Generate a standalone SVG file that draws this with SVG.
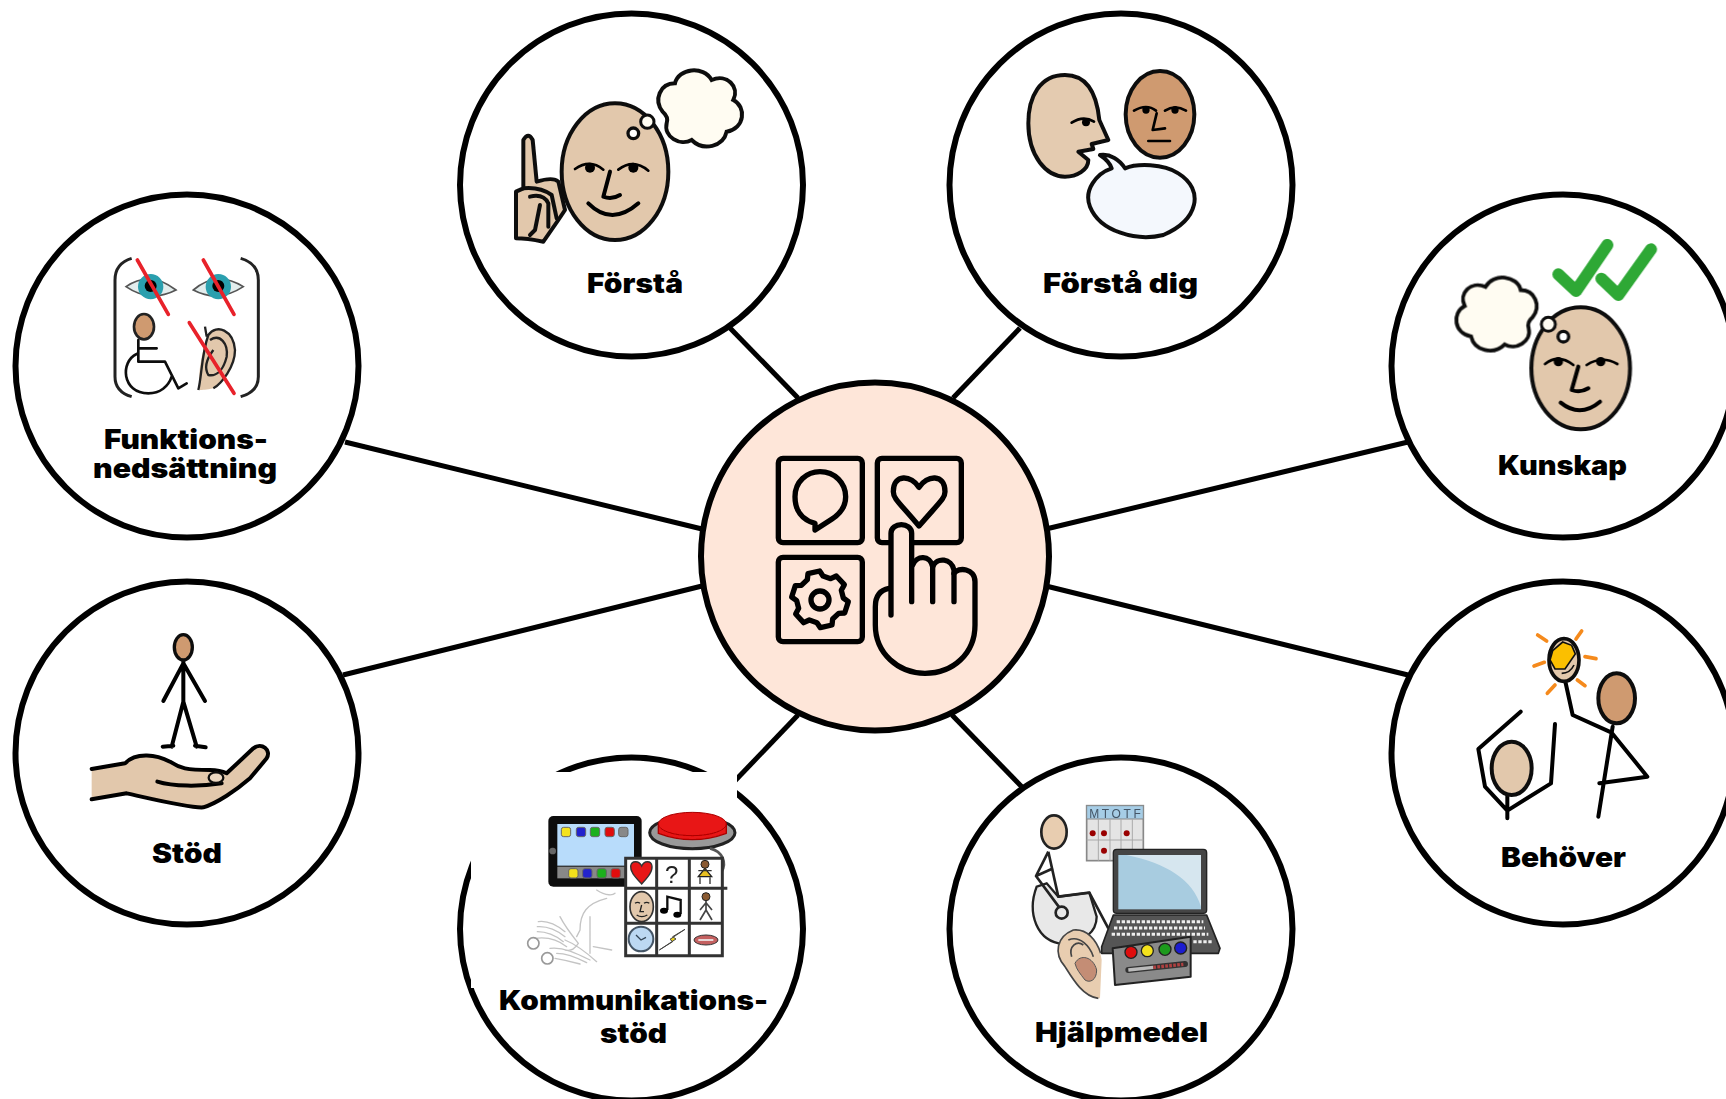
<svg xmlns="http://www.w3.org/2000/svg" width="1726" height="1099" viewBox="0 0 1726 1099">
<style>
.c{fill:#fff;stroke:#000;stroke-width:6}
.hub{fill:#fee6d9;stroke:#000;stroke-width:6}
.ln{stroke:#000;stroke-width:5;fill:none}
.t{font-family:"Inter","Liberation Sans",sans-serif;font-weight:900;font-size:27px;fill:#000;text-anchor:middle}
.k{fill:none;stroke:#000;stroke-width:12;stroke-linecap:round;stroke-linejoin:round}
.e{fill:none;stroke:#000;stroke-width:8;stroke-linecap:round;stroke-linejoin:round}
.s{stroke:#111;stroke-width:12;stroke-linejoin:round;stroke-linecap:round}
.skin{fill:#e2c8ac}
.dark{fill:#cf9a6f}
.i{fill:none;stroke:#000;stroke-width:16;stroke-linecap:round;stroke-linejoin:round}
.g{fill:none;stroke:#c4c4c4;stroke-width:4;stroke-linecap:round}
.b{stroke:#666;stroke-width:3}
</style>
<defs>
<filter id="soft" x="-5%" y="-5%" width="110%" height="110%"><feGaussianBlur stdDeviation="1.3"/></filter>
<path id="cloud" d="M668 335C640 300 660 250 705 250C715 205 790 195 815 240C860 220 900 260 880 300C920 320 915 385 860 395C850 440 790 455 755 420C720 440 670 410 680 370C685 355 680 345 668 335Z"/>
</defs>
<g id="connectors">
<path class="ln" d="M730 328L798 398"/>
<path class="ln" d="M1020 328L953 398"/>
<path class="ln" d="M345 442L702 529"/>
<path class="ln" d="M343 675L702 586"/>
<path class="ln" d="M1046 529L1408 442"/>
<path class="ln" d="M1046 586L1408 675"/>
<path class="ln" d="M952 715L1022 787"/>
<path class="ln" d="M798 715L730 786"/>
</g>

<g id="hub">
<circle class="hub" cx="875" cy="556.5" r="174"/>
<g transform="translate(690 370) scale(.33333)" filter="url(#soft)">
<rect class="i" x="265" y="265" width="252" height="253" rx="14"/>
<rect class="i" x="562" y="265" width="252" height="253" rx="14"/>
<rect class="i" x="265" y="562" width="252" height="253" rx="14"/>
<path class="i" d="M375 460C335 450 315 420 315 380C315 335 350 305 390 305C435 305 467 340 467 380C467 415 445 435 425 448L375 480Z"/>
<path class="i" d="M687 352C665 315 610 310 610 365C610 385 625 395 687 468C750 395 765 385 765 365C765 310 710 315 687 352Z"/>
<circle class="i" cx="390" cy="690" r="27"/>
<path class="i" d="M352 629L354 611L389 603L399 618L422 626L439 618L463 644L454 661L460 684L475 695L464 729L446 730L428 747L426 765L391 773L381 758L358 750L341 758L317 732L326 715L320 692L305 681L316 647L334 646Z"/>
<path fill="#fee6d9" d="M603 655L603 490C603 455 665 455 665 490L668 585C680 555 720 555 728 590C740 560 785 565 792 610C805 590 855 595 855 635L855 765C855 850 790 910 705 910C625 910 556 850 556 765L556 710C556 680 570 660 603 655Z"/>
<path class="i" d="M603 735L603 490C603 455 665 455 665 490L665 695"/>
<path class="i" d="M668 585C680 555 720 555 728 590L728 695"/>
<path class="i" d="M728 590C740 560 785 565 792 600L792 695"/>
<path class="i" d="M792 610C805 590 855 595 855 635L855 765C855 850 790 910 705 910C625 910 556 850 556 765L556 710C556 680 570 660 597 655"/>
</g>
</g>

<g id="node-forsta">
<circle class="c" cx="631.5" cy="185" r="171.5"/>
<g transform="translate(440 0) scale(.33333)" filter="url(#soft)">
<path class="skin s" d="M228 715L228 575L250 565L250 420Q265 395 278 420L290 545Q340 530 355 545L375 630L355 660L310 725Q260 715 228 715Z"/>
<path class="s" fill="none" stroke-width="7" d="M250 565Q300 560 335 585L350 655M270 590Q310 580 325 610L325 680M300 615L285 690L270 705"/>
<ellipse class="skin s" cx="525" cy="515" rx="160" ry="205"/>
<path class="e" d="M405 507Q450 475 490 509M535 509Q580 475 625 512"/>
<path class="k" d="M510 515L490 590Q515 600 540 585M445 610Q515 680 595 610"/>
<circle cx="450" cy="503" r="15"/><circle cx="580" cy="503" r="15"/>
<circle cx="580" cy="400" r="16" fill="#fff" stroke="#111" stroke-width="10"/>
<circle cx="622" cy="365" r="20" fill="#fffcf2" stroke="#111" stroke-width="9"/>
<use href="#cloud" fill="#fffcf2" stroke="#111" stroke-width="12"/>
</g>
<text class="t" x="635" y="293" textLength="96" lengthAdjust="spacingAndGlyphs">Förstå</text>
</g>

<g id="node-forsta-dig">
<circle class="c" cx="1121" cy="185" r="171.5"/>
<g transform="translate(930 0) scale(.33333)" filter="url(#soft)">
<path fill="#e4cbb0" class="s" d="M405 225C330 225 295 290 295 370C295 470 350 530 405 530C440 530 475 510 475 480L445 455L490 447L485 432L535 420L508 360C500 280 470 225 405 225Z"/>
<path class="e" d="M425 368Q460 345 492 365"/><circle cx="468" cy="367" r="12"/>
<ellipse class="dark s" cx="690" cy="343" rx="103" ry="130"/>
<path class="e" stroke-width="6" d="M612 332Q650 310 678 332M705 332Q735 312 768 332M680 340L668 390L705 385M655 423L720 423"/>
<circle cx="648" cy="330" r="11"/><circle cx="735" cy="330" r="11"/>
<path fill="#f4f8fd" class="s" d="M510 465C540 460 570 480 585 505C620 490 700 490 745 520C825 570 805 660 700 705C620 725 510 695 480 620C460 570 500 520 545 505C540 490 525 475 510 465Z"/>
</g>
<text class="t" x="1120.5" y="293" textLength="155" lengthAdjust="spacingAndGlyphs">Förstå dig</text>
</g>

<g id="node-funktion">
<circle class="c" cx="187" cy="366" r="171.5"/>
<g transform="translate(0 180) scale(.33333)" filter="url(#soft)">
<path fill="none" stroke="#222" stroke-width="9" d="M395 235Q345 250 345 300L345 590Q345 635 395 650M722 235Q775 250 775 300L775 590Q775 635 722 650"/>
<path fill="#e3eded" stroke="#555" stroke-width="5" d="M378 320Q450 270 528 330Q450 370 378 320Z"/>
<circle cx="452" cy="320" r="38" fill="#2a9fae"/><circle cx="452" cy="318" r="18"/>
<path fill="#e3eded" stroke="#555" stroke-width="5" d="M580 330Q650 270 730 320Q655 370 580 330Z"/>
<circle cx="655" cy="320" r="38" fill="#2a9fae"/><circle cx="655" cy="318" r="18"/>
<ellipse class="dark" cx="432" cy="440" rx="30" ry="38" stroke="#222" stroke-width="8"/>
<path fill="none" stroke="#111" stroke-width="8" stroke-linecap="round" stroke-linejoin="round" d="M415 480L415 545L495 545L535 625L560 610M415 505L470 505M410 522C360 545 365 640 445 640C480 640 505 620 515 590"/>
<path class="skin" d="M600 630C590 580 610 500 625 465C650 430 700 450 705 510C705 560 665 610 640 625C620 630 605 630 600 630Z"/>
<path fill="none" stroke="#222" stroke-width="7" d="M595 630C605 590 605 520 625 465C650 430 700 450 705 510C705 560 665 610 640 625M630 480C660 460 685 490 680 530C670 570 650 590 625 585C610 560 625 530 640 510M615 440L620 470"/>
<path fill="none" stroke="#e8202a" stroke-width="11" stroke-linecap="round" d="M412 240L505 403M610 240L702 403M568 428L702 640"/>
</g>
<text class="t" x="186" y="449" textLength="164" lengthAdjust="spacingAndGlyphs">Funktions-</text>
<text class="t" x="185" y="478" textLength="184" lengthAdjust="spacingAndGlyphs">nedsättning</text>
</g>

<g id="node-kunskap">
<circle class="c" cx="1563" cy="366" r="171.5"/>
<g transform="translate(1370 180) scale(.33333)" filter="url(#soft)">
<path fill="none" stroke="#2ea836" stroke-width="36" stroke-linejoin="round" stroke-linecap="round" d="M565 283L618 333L712 195M694 296L745 345L843 208"/>
<ellipse class="skin s" cx="632" cy="565" rx="148" ry="183"/>
<path class="e" d="M525 552Q565 520 610 555M650 555Q695 525 742 552"/>
<path class="k" d="M625 560L605 630Q630 640 655 625M572 668Q630 715 690 665"/>
<circle cx="565" cy="545" r="14"/><circle cx="692" cy="545" r="14"/>
<circle cx="580" cy="470" r="16" fill="#fff" stroke="#111" stroke-width="10"/>
<circle cx="535" cy="433" r="21" fill="#fffcf2" stroke="#111" stroke-width="9"/>
<use href="#cloud" transform="translate(1129 90) scale(-.96 .96)" fill="#fffcf2" stroke="#111" stroke-width="12"/>
</g>
<text class="t" x="1562.5" y="475" textLength="129" lengthAdjust="spacingAndGlyphs">Kunskap</text>
</g>

<g id="node-stod">
<circle class="c" cx="187" cy="753" r="171.5"/>
<g transform="translate(0 570) scale(.33333)" filter="url(#soft)">
<path class="k" stroke-width="10" d="M550 270L550 400M550 280L490 393M550 280L615 393M550 395L515 530M550 395L590 530M488 530L520 527M585 527L617 532"/>
<ellipse class="dark" cx="550" cy="232" rx="27" ry="38" stroke="#111" stroke-width="10"/>
<path class="skin" d="M275 597L375 580C410 545 470 555 510 575C540 595 560 600 630 600C650 600 670 605 680 610L760 535C785 515 815 540 800 565L750 625C710 660 650 700 610 712C570 715 470 690 380 670L275 688Z"/>
<path class="k" d="M275 597L375 580C410 545 470 555 510 575C540 595 560 600 630 600C650 600 670 605 680 610L760 535C785 515 815 540 800 565L750 625C710 660 650 700 610 712C570 715 470 690 380 670L275 688"/>
<path class="k" d="M472 635C520 650 600 650 665 640"/>
<ellipse cx="648" cy="623" rx="22" ry="16" fill="#ecd8c2" stroke="#111" stroke-width="7"/>
</g>
<text class="t" x="187" y="863" textLength="70" lengthAdjust="spacingAndGlyphs">Stöd</text>
</g>

<g id="node-behover">
<circle class="c" cx="1563" cy="753" r="171.5"/>
<g transform="translate(1370 570) scale(.33333)" filter="url(#soft)">
<path fill="none" stroke="#f58a1e" stroke-width="11" stroke-linecap="round" d="M503 195L530 213M635 183L618 207M645 260L678 266M492 288L523 277M622 330L645 347M555 345L532 370"/>
<path class="k" d="M728 470L685 740M725 488L608 435L585 330M725 488L832 620L688 640"/>
<ellipse cx="582" cy="270" rx="45" ry="64" fill="#e2c8ac" stroke="#111" stroke-width="11"/>
<path fill="#fbbf00" stroke="#111" stroke-width="5" d="M548 242L578 216L605 226L616 252L585 297L555 297L540 270Z"/>
<path fill="none" stroke="#111" stroke-width="5" d="M575 310Q600 310 612 285"/>
<ellipse class="dark s" cx="740" cy="385" rx="55" ry="75"/>
<path class="k" d="M412 675L412 745M452 425L325 537L345 650L412 722L543 640L555 462"/>
<ellipse class="skin s" cx="425" cy="595" rx="60" ry="80"/>
</g>
<text class="t" x="1563.5" y="867" textLength="125" lengthAdjust="spacingAndGlyphs">Behöver</text>
</g>

<g id="node-kommunikation">
<circle class="c" cx="631.5" cy="929" r="171.5"/>
<rect x="471" y="772" width="266" height="216" fill="#fff"/>
<g transform="translate(450 740) scale(.33333)" filter="url(#soft)">
<path class="g" d="M440 450C470 470 490 465 495 460M470 475C410 490 390 520 390 570L380 590M420 530L420 640M430 620L485 630"/>
<path class="g" d="M265 545C295 540 320 555 345 575M262 560C290 558 320 570 345 590M262 575C285 575 315 585 340 605M330 530C345 560 365 585 385 610M255 595C290 590 325 600 350 620M300 625C340 620 380 640 420 660M320 640C350 640 385 655 410 668M315 655C345 660 365 665 390 672M345 600C370 610 395 625 440 665M385 610C375 625 365 635 345 630"/>
<circle cx="250" cy="610" r="17" fill="none" stroke="#999" stroke-width="5"/>
<circle cx="292" cy="655" r="17" fill="none" stroke="#999" stroke-width="5"/>
<rect x="295" y="228" width="280" height="212" rx="15" fill="#111"/>
<rect x="322" y="252" width="230" height="125" fill="#b8dcfb"/>
<rect x="322" y="380" width="230" height="35" fill="#888"/>
<circle cx="308" cy="333" r="10" fill="#666"/>
<rect class="b" x="334" y="262" width="28" height="28" rx="7" fill="#f4e21a"/><rect class="b" x="379" y="262" width="28" height="28" rx="7" fill="#2222cc"/><rect class="b" x="421" y="262" width="28" height="28" rx="7" fill="#1cb01c"/><rect class="b" x="465" y="262" width="28" height="28" rx="7" fill="#e01010"/><rect class="b" x="506" y="262" width="28" height="28" rx="7" fill="#888"/>
<rect class="b" x="356" y="386" width="28" height="28" rx="7" fill="#f4e21a"/><rect class="b" x="398" y="386" width="28" height="28" rx="7" fill="#2222cc"/><rect class="b" x="441" y="386" width="28" height="28" rx="7" fill="#1cb01c"/><rect class="b" x="483" y="386" width="28" height="28" rx="7" fill="#e01010"/>
<ellipse cx="727" cy="278" rx="128" ry="48" fill="#999" stroke="#222" stroke-width="9"/>
<path fill="#e81414" stroke="#a00" stroke-width="4" d="M625 252L625 280Q727 318 829 280L829 252Z"/>
<ellipse cx="727" cy="252" rx="102" ry="35" fill="#e81414" stroke="#a00" stroke-width="3"/>
<path fill="none" stroke="#555" stroke-width="8" d="M780 325C820 335 830 370 815 395"/>
<rect x="527" y="355" width="290" height="292" fill="#fff"/>
<path fill="none" stroke="#333" stroke-width="9" d="M527 355H817V647H527ZM527 445H832M527 550H817M620 355V647M718 355V647"/>
<path fill="#e81414" stroke="#333" stroke-width="4" d="M575 432C555 410 540 395 542 378C545 360 568 362 575 378C582 362 603 360 606 378C608 395 595 410 575 432Z"/>
<text x="665" y="428" font-family="Liberation Sans,sans-serif" font-size="72" text-anchor="middle" fill="#222">?</text>
<path stroke="#222" stroke-width="4" fill="#e8c020" d="M765 385L785 410L745 410Z"/>
<path fill="none" stroke="#333" stroke-width="4" d="M750 412L750 432M780 412L780 432M745 392L785 392"/>
<circle cx="765" cy="373" r="12" fill="#8a5a30" stroke="#222" stroke-width="3"/>
<ellipse class="skin" cx="575" cy="500" rx="35" ry="45" stroke="#333" stroke-width="5"/>
<path fill="none" stroke="#222" stroke-width="4" d="M555 490Q563 484 570 490M582 490Q590 484 598 490M575 495L570 515L582 515M560 525Q575 535 592 525"/>
<path fill="none" stroke="#111" stroke-width="7" d="M652 510L652 470L692 480L692 522"/>
<ellipse cx="642" cy="512" rx="12" ry="9"/><ellipse cx="682" cy="524" rx="12" ry="9"/>
<circle cx="768" cy="470" r="12" fill="#8a5a30" stroke="#222" stroke-width="3"/>
<path fill="none" stroke="#444" stroke-width="5" d="M768 482L768 510M768 488L750 510M768 488L786 510M768 510L750 540M768 510L786 540"/>
<circle cx="573" cy="597" r="37" fill="#bcd8f2" stroke="#456" stroke-width="6"/>
<path fill="none" stroke="#345" stroke-width="4" d="M558 585L573 600L588 592"/>
<path fill="#e8d020" stroke="#444" stroke-width="3" d="M705 568L668 590L678 597L628 630L668 605L660 598Z"/>
<ellipse cx="768" cy="600" rx="36" ry="15" fill="#c46060" stroke="#333" stroke-width="3"/>
<path stroke="#eee" stroke-width="5" d="M745 600L790 600"/>
</g>
<text class="t" x="633.5" y="1010" textLength="269" lengthAdjust="spacingAndGlyphs">Kommunikations-</text>
<text class="t" x="633.5" y="1043" textLength="67" lengthAdjust="spacingAndGlyphs">stöd</text>
</g>

<g id="node-hjalpmedel">
<circle class="c" cx="1121" cy="929" r="171.5"/>
<g transform="translate(940 740) scale(.33333)" filter="url(#soft)">
<path fill="#e8e8e8" stroke="#222" stroke-width="7" d="M290 440C260 520 290 605 370 612C430 610 470 575 470 530L448 458L355 470L320 430Z"/>
<path fill="none" stroke="#222" stroke-width="8" stroke-linejoin="round" d="M325 335L288 408L360 505M325 335L355 470L448 458L505 565M288 408L340 385"/>
<circle cx="365" cy="518" r="18" fill="#e8e8e8" stroke="#222" stroke-width="8"/>
<ellipse cx="342" cy="276" rx="38" ry="50" fill="#e8cdb0" stroke="#222" stroke-width="8"/>
<rect x="440" y="197" width="170" height="165" fill="#e4e4e4" stroke="#888" stroke-width="5"/>
<rect x="440" y="197" width="170" height="40" fill="#a6cde6" stroke="#888" stroke-width="3"/>
<text x="525" y="233" font-family="Liberation Sans,sans-serif" font-size="36" text-anchor="middle" fill="#456" textLength="155">MTOTF</text>
<path stroke="#aaa" stroke-width="3" d="M440 300H610M475 237V362M510 237V362M543 237V362M577 237V362"/>
<circle cx="458" cy="280" r="9" fill="#900"/><circle cx="492" cy="280" r="9" fill="#900"/><circle cx="560" cy="280" r="9" fill="#900"/><circle cx="492" cy="332" r="9" fill="#900"/>
<path fill="#555" stroke="#222" stroke-width="5" stroke-linejoin="round" d="M520 525L800 525L840 625L835 640L485 640L485 620Z"/>
<rect x="520" y="328" width="280" height="192" rx="10" fill="#444" stroke="#222" stroke-width="4"/>
<rect x="535" y="345" width="248" height="163" fill="#a8cce0"/>
<path fill="#d6e6ef" d="M560 345L783 345L783 500C760 420 680 370 560 345Z"/>
<path fill="none" stroke="#eee" stroke-width="9" stroke-dasharray="10 5" d="M530 545L790 545M522 564L795 564M515 583L805 583M760 605L820 605"/>
<path fill="#8a8a8a" stroke="#222" stroke-width="6" stroke-linejoin="round" d="M518 625L752 590L752 710L525 735Z"/>
<circle cx="573" cy="637" r="18" fill="#e01010" stroke="#222" stroke-width="4"/>
<circle cx="622" cy="632" r="18" fill="#f4e21a" stroke="#222" stroke-width="4"/>
<circle cx="675" cy="628" r="18" fill="#1f9a1f" stroke="#222" stroke-width="4"/>
<circle cx="722" cy="624" r="18" fill="#1a1ad0" stroke="#222" stroke-width="4"/>
<path stroke="#333" stroke-width="18" stroke-linecap="round" d="M565 690L735 672"/>
<path stroke="#bbb" stroke-width="10" d="M565 690L640 682"/>
<path stroke="#b04040" stroke-width="10" stroke-dasharray="8 4" d="M640 682L730 673"/>
<path fill="#e8cdb0" d="M475 775C430 770 400 720 375 680C340 640 350 590 400 570C440 565 480 610 485 660L480 775Z"/>
<path fill="none" stroke="#444" stroke-width="5" d="M475 775C430 770 400 720 375 680C340 640 350 590 400 570C440 565 470 600 482 640M385 600C420 585 450 620 460 650M395 650C385 620 410 600 430 615"/>
<path fill="#c48d74" stroke="#555" stroke-width="3" d="M405 670C420 640 460 650 470 690C470 720 450 730 435 720C420 700 410 690 405 670Z"/>
</g>
<text class="t" x="1121.5" y="1042" textLength="173" lengthAdjust="spacingAndGlyphs">Hjälpmedel</text>
</g>
</svg>
